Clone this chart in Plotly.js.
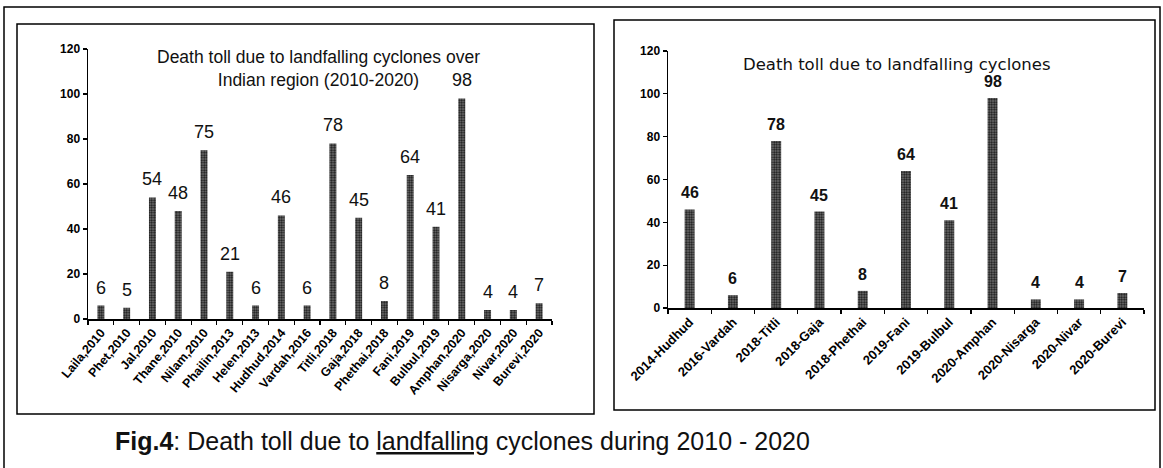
<!DOCTYPE html>
<html><head><meta charset="utf-8">
<script src="https://cdn.plot.ly/plotly-3.0.1.min.js"></script>
<style>html,body{margin:0;padding:0;background:#fff}#c{width:1163px;height:468px}</style>
</head><body><div id="c"></div>
<script>
const leftCats = ["Laila,2010","Phet,2010","Jal,2010","Thane,2010","Nilam,2010","Phailin,2013","Helen,2013","Hudhud,2014","Vardah,2016","Titli,2018","Gaja,2018","Phethai,2018","Fani,2019","Bulbul,2019","Amphan,2020","Nisarga,2020","Nivar,2020","Burevi,2020"];
const leftVals = [6,5,54,48,75,21,6,46,6,78,45,8,64,41,98,4,4,7];
const rightCats = ["2014-Hudhud","2016-Vardah","2018-Titli","2018-Gaja","2018-Phethai","2019-Fani","2019-Bulbul","2020-Amphan","2020-Nisarga","2020-Nivar","2020-Burevi"];
const rightVals = [46,6,78,45,8,64,41,98,4,4,7];
const yTicks = [0,20,40,60,80,100,120];
const leftTitle = "Death toll due to landfalling cyclones over<br>Indian region (2010-2020)";
const rightTitle = "Death toll due to landfalling cyclones";
const caption = "<b>Fig.4</b>: Death toll due to <u>landfalling</u> cyclones during 2010 - 2020";

const W = 1163, H = 468;
const px = v => v / W, py = v => 1 - v / H;
const FONT = "Liberation Sans, Arial, sans-serif";

const barStyle = (w) => ({
  type: 'bar', width: w,
  marker: {color: '#666', line: {width: 0},
    pattern: {shape: '.', fgcolor: '#151515', bgcolor: '#7a7a7a', size: 2.5, solidity: 0.5}},
  hoverinfo: 'x+y', showlegend: false
});

const traces = [
  Object.assign(barStyle(0.27), {x: leftCats, y: leftVals, xaxis: 'x', yaxis: 'y'}),
  Object.assign(barStyle(0.23), {x: rightCats, y: rightVals, xaxis: 'x2', yaxis: 'y2'})
];

const axX = (dom, anchor, size, ang) => ({
  domain: dom, anchor: anchor, type: 'category', tickangle: ang,
  tickfont: {family: FONT, size: size, color: '#000', weight: 'bold'},
  showline: true, linecolor: '#000', linewidth: 1.5, mirror: false,
  ticks: 'outside', ticklen: 4, tickcolor: '#000', tickwidth: 1.2,
  tickson: 'boundaries', showgrid: false, zeroline: false, fixedrange: true
});
const axY = (dom, anchor) => ({
  domain: dom, anchor: anchor, range: [0, 120], tickvals: yTicks,
  tickfont: {family: FONT, size: 12, color: '#000', weight: 'bold'},
  showline: true, linecolor: '#000', linewidth: 1.5,
  ticks: 'outside', ticklen: 4, tickcolor: '#000', tickwidth: 1.2,
  showgrid: false, zeroline: false, fixedrange: true
});

const annotations = [];
leftCats.forEach((c, i) => annotations.push({x: c, y: leftVals[i], xref: 'x', yref: 'y', text: String(leftVals[i]),
  showarrow: false, yanchor: 'bottom', yshift: 6, font: {family: FONT, size: 18, color: '#111'}}));
rightCats.forEach((c, i) => annotations.push({x: c, y: rightVals[i], xref: 'x2', yref: 'y2', text: String(rightVals[i]),
  showarrow: false, yanchor: 'bottom', yshift: 6, font: {family: FONT, size: 16, color: '#111', weight: 'bold'}}));
annotations.push({xref: 'paper', yref: 'paper', x: px(318), y: py(68), text: leftTitle, showarrow: false,
  font: {family: FONT, size: 17.5, color: '#111'}, align: 'center', xanchor: 'center', yanchor: 'middle'});
annotations.push({xref: 'paper', yref: 'paper', x: px(897), y: py(65), text: rightTitle, showarrow: false,
  font: {family: "DejaVu Sans, sans-serif", size: 16.5, color: '#111'}, xanchor: 'center', yanchor: 'middle'});
annotations.push({xref: 'paper', yref: 'paper', x: px(113), y: py(441), text: caption, showarrow: false,
  font: {family: FONT, size: 25, color: '#111'}, xanchor: 'left', yanchor: 'middle'});

const rect = (x0, y0, x1, y1, w) => ({type: 'rect', xref: 'paper', yref: 'paper', x0: px(x0), x1: px(x1), y0: py(y0), y1: py(y1),
  line: {color: '#000', width: w}, fillcolor: 'rgba(0,0,0,0)', layer: 'above'});

const layout = {
  width: W, height: H, margin: {l: 0, r: 0, t: 0, b: 0},
  paper_bgcolor: '#fff', plot_bgcolor: 'rgba(0,0,0,0)',
  xaxis: axX([px(88), px(552)], 'y', 12.5, -50),
  yaxis: axY([py(319), py(49)], 'x'),
  xaxis2: axX([px(668), px(1144)], 'y2', 13, -45),
  yaxis2: axY([py(308), py(51)], 'x2'),
  annotations: annotations,
  shapes: [
    rect(4, 7, 1160, 470, 1.5),
    rect(17, 24, 594, 414, 1.5),
    rect(614, 20, 1155, 410, 1.5)
  ]
};
Plotly.newPlot('c', traces, layout, {staticPlot: true, displayModeBar: false});
</script></body></html>
